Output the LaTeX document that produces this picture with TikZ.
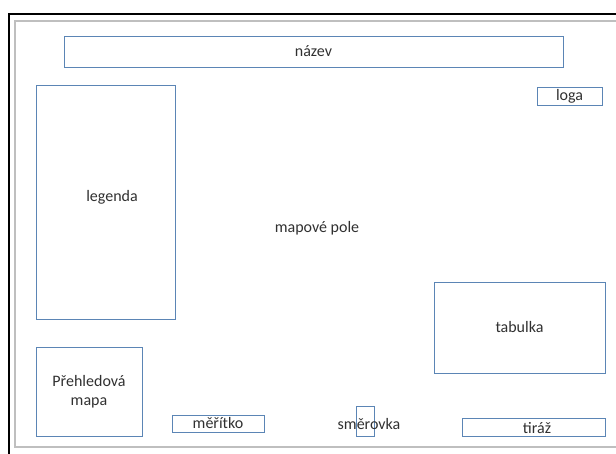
\documentclass[tikz,border=0pt]{standalone}
\usepackage{fontspec}
\setmainfont{Carlito}
\definecolor{boxblue}{HTML}{5B85B5}
\definecolor{framegray}{HTML}{BFBFBF}
\definecolor{txt}{HTML}{303030}
\tikzset{
  box/.style={draw=boxblue, line width=0.9pt, rectangle, inner sep=0pt, text=txt, font=\fontsize{16}{19}\selectfont, align=center},
  lbl/.style={inner sep=0pt, text=txt, font=\fontsize{16}{19}\selectfont, align=center}
}
\begin{document}
\begin{tikzpicture}[x=1pt,y=-1pt]
\useasboundingbox (0,0) rectangle (616,454);
% frame
\coordinate (fa) at (9,454);
\coordinate (fb) at (9,14);
\coordinate (fc) at (616,14);
\draw[line width=2.4pt, black] (fa) -- (fb) -- (fc);
\coordinate (ga) at (617,21);
\coordinate (gb) at (15,21);
\coordinate (gc) at (15,447);
\coordinate (gd) at (617,447);
\draw[line width=1.5pt, framegray] (ga) -- (gb) -- (gc) -- (gd);
% boxes
\node[box, minimum width=499pt, minimum height=31pt] (nazev) at (313.5,51.5) {název};
\node[box, minimum width=65pt, minimum height=18pt] (loga) at (569.5,96) {loga};
\node[box, minimum width=139pt, minimum height=234pt] (legenda) at (105.5,202) {};
\node[lbl] (legtext) at (112,197) {legenda};
\node[lbl] (pole) at (317,228) {mapové pole};
\node[box, minimum width=171pt, minimum height=91pt] (tabulka) at (519.5,327.5) {tabulka};
\node[box, minimum width=106pt, minimum height=89pt] (prehled) at (89,391.5) {Přehledová\\mapa};
\node[box, minimum width=92pt, minimum height=17pt] (meritko) at (218,423.5) {měřítko};
\node[box, minimum width=18pt, minimum height=30pt] (smerbox) at (365,421) {};
\node[lbl] (smerovka) at (369,424) {směrovka};
\node[box, minimum width=143pt, minimum height=18pt] (tiraz) at (533.5,427) {};
\node[lbl] (tiraztext) at (537,428) {tiráž};
\end{tikzpicture}
\end{document}
